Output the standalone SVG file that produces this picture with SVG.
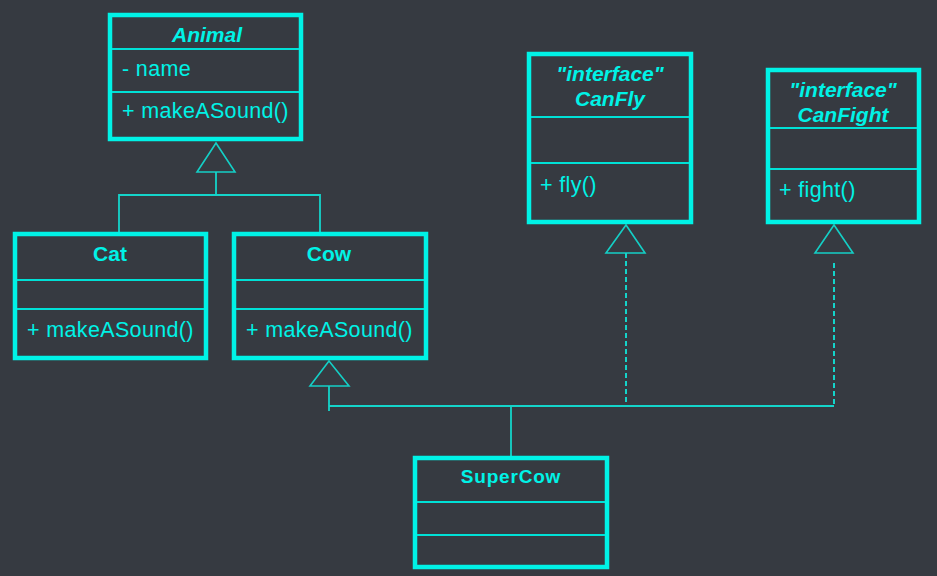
<svg xmlns="http://www.w3.org/2000/svg" width="937" height="576" viewBox="0 0 937 576">
<style>
.box{fill:none;stroke:#00F2E6;stroke-width:4.5}
.div{stroke:#00E0D6;stroke-width:2}
.t{font-family:"Liberation Sans",Arial,sans-serif;fill:#00F2E6}
.title{font-size:21px;font-weight:bold;text-anchor:middle}
.it{font-style:italic}
.mem{font-size:21.5px;letter-spacing:0.35px}
.con{fill:none;stroke:#14D4CA;stroke-width:1.8}
.dash{stroke-dasharray:5 3;stroke-width:2}
.tri{fill:none;stroke:#14CFC6;stroke-width:1.6}
</style>
<rect width="937" height="576" fill="#363A41"/>
<g id="connectors">
  <polygon class="tri" points="216,143 197,172 235,172"/>
  <polyline class="con" points="216,172 216,195"/>
  <polyline class="con" points="119,232 119,195 320,195 320,232"/>
  <polygon class="tri" points="329,361 310,386 349,386"/>
  <polyline class="con" points="329,386 329,411"/>
  <polyline class="con" points="329,406 834,406"/>
  <polyline class="con" points="511,406 511,456"/>
  <polygon class="tri" points="626,225 606,253 645,253"/>
  <polyline class="con dash" points="626,253 626,406"/>
  <polygon class="tri" points="834,225 815,253 853,253"/>
  <polyline class="con dash" points="834,263 834,406"/>
</g>
<g id="Animal">
  <rect class="box" x="110" y="15" width="191" height="124"/>
  <line class="div" x1="112" y1="49" x2="299" y2="49"/>
  <line class="div" x1="112" y1="92" x2="299" y2="92"/>
  <text class="t title it" x="207" y="42">Animal</text>
  <text class="t mem" x="122" y="76">- name</text>
  <text class="t mem" x="122" y="118">+ makeASound()</text>
</g>
<g id="Cat">
  <rect class="box" x="15" y="234" width="191" height="124"/>
  <line class="div" x1="17" y1="280" x2="204" y2="280"/>
  <line class="div" x1="17" y1="309" x2="204" y2="309"/>
  <text class="t title" x="110" y="261">Cat</text>
  <text class="t mem" x="27" y="337">+ makeASound()</text>
</g>
<g id="Cow">
  <rect class="box" x="234" y="234" width="192" height="124"/>
  <line class="div" x1="236" y1="280" x2="424" y2="280"/>
  <line class="div" x1="236" y1="309" x2="424" y2="309"/>
  <text class="t title" x="329" y="261">Cow</text>
  <text class="t mem" x="246" y="337">+ makeASound()</text>
</g>
<g id="CanFly">
  <rect class="box" x="529" y="54" width="162" height="168"/>
  <line class="div" x1="531" y1="117" x2="689" y2="117"/>
  <line class="div" x1="531" y1="163" x2="689" y2="163"/>
  <text class="t title it" x="610" y="81">"interface"</text>
  <text class="t title it" x="610" y="106">CanFly</text>
  <text class="t mem" x="540" y="192">+ fly()</text>
</g>
<g id="CanFight">
  <rect class="box" x="768" y="70" width="151" height="152"/>
  <line class="div" x1="770" y1="128" x2="917" y2="128"/>
  <line class="div" x1="770" y1="169" x2="917" y2="169"/>
  <text class="t title it" x="843" y="97">"interface"</text>
  <text class="t title it" x="843" y="122">CanFight</text>
  <text class="t mem" x="779" y="197">+ fight()</text>
</g>
<g id="SuperCow">
  <rect class="box" x="415" y="458" width="192" height="109"/>
  <line class="div" x1="417" y1="502" x2="605" y2="502"/>
  <line class="div" x1="417" y1="535" x2="605" y2="535"/>
  <text class="t title" x="511" y="483" style="font-size:19px;letter-spacing:0.8px">SuperCow</text>
</g>
</svg>
